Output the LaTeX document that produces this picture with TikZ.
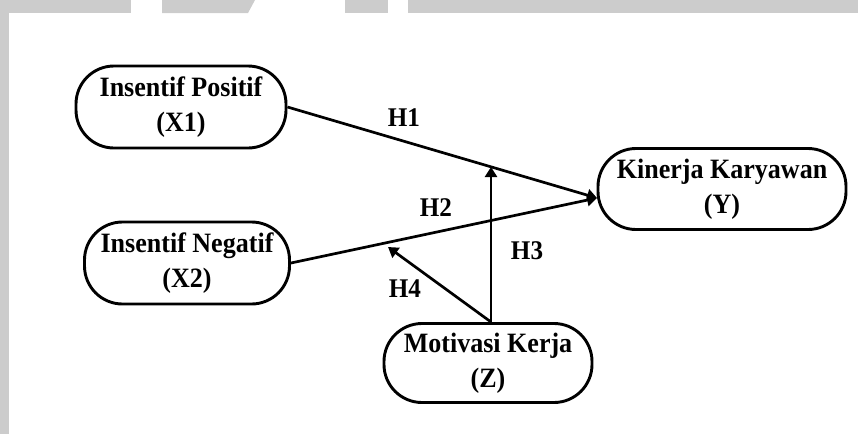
\documentclass[tikz,border=0pt]{standalone}
\usepackage{fontspec}
\setmainfont{Liberation Serif}[FakeStretch=0.93]
\usetikzlibrary{arrows.meta}
\definecolor{bandgray}{HTML}{CCCCCC}
\tikzset{
  var/.style={draw, line width=2.9pt, rounded corners=38pt, align=center,
    font=\fontsize{28}{35}\selectfont\bfseries, inner sep=0pt},
  conn/.style={line width=2.7pt, -{Triangle[length=10pt,width=12pt]}},
  lab/.style={font=\fontsize{27}{30}\selectfont\bfseries, inner sep=0pt}
}
\begin{document}
\begin{tikzpicture}[x=1pt,y=-1pt]
\useasboundingbox (0,0) rectangle (858,434);
% header bands
\fill[bandgray] (0,0) rectangle (131,13);
\fill[bandgray] (162,0) -- (255,0) -- (248,13) -- (162,13) -- cycle;
\fill[bandgray] (345,0) rectangle (388,13);
\fill[bandgray] (408,0) rectangle (858,13);
\fill[bandgray] (0,0) rectangle (9,434);
% nodes
\node[var, minimum width=210pt, minimum height=82pt] (X1) at (181,107) {Insentif Positif\\(X1)};
\node[var, minimum width=205pt, minimum height=82pt] (X2) at (187,263) {Insentif Negatif\\(X2)};
\node[var, minimum width=248pt, minimum height=81pt] (Y) at (722,189) {Kinerja Karyawan\\(Y)};
\node[var, minimum width=208pt, minimum height=79pt] (Z) at (488,363) {Motivasi Kerja\\(Z)};
% coordinates
\coordinate (yin) at (597,198);
\coordinate (zt) at (491,322);
\coordinate (m) at (491,167);
\coordinate (h4) at (388,247);
% connectors
\draw[conn] (X1.east) -- (yin);
\draw[conn] (X2.east) -- (yin);
\draw[conn] (zt) -- (m);
\draw[conn] (zt) -- (h4);
% labels
\node[lab] (H1) at (404,118) {H1};
\node[lab] (H2) at (436,208) {H2};
\node[lab] (H3) at (527,251) {H3};
\node[lab] (H4) at (405,289) {H4};
\end{tikzpicture}
\end{document}
